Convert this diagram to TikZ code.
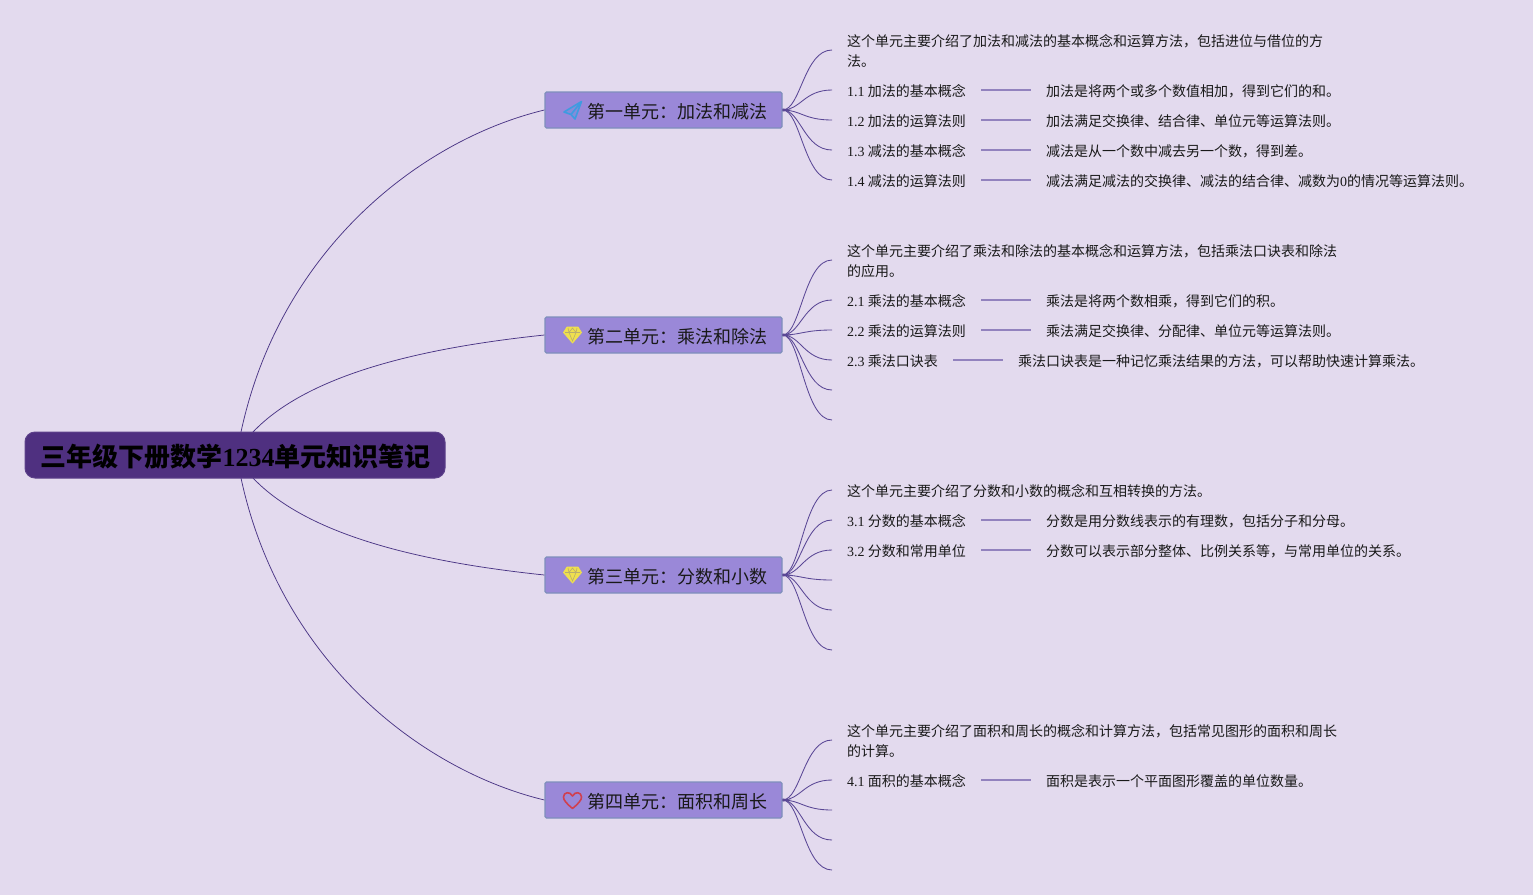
\documentclass[tikz,border=0pt]{standalone}
\usepackage{fontspec}
\setmainfont{Noto Sans CJK SC}
\newfontfamily\lat{Liberation Serif}
\usetikzlibrary{calc}
\definecolor{bgc}{HTML}{E3DAEE}
\definecolor{rootc}{HTML}{4F3080}
\definecolor{boxc}{HTML}{9A88D8}
\definecolor{boxe}{HTML}{7F8FBC}
\definecolor{linkc}{HTML}{4A3585}
\definecolor{branchc}{HTML}{5A4795}
\definecolor{barc}{HTML}{9282BE}
\definecolor{planec}{HTML}{3F9BE0}
\definecolor{gemc}{HTML}{EFE04E}
\definecolor{gemdark}{HTML}{B9AE6E}
\definecolor{heartc}{HTML}{D0404F}
\tikzset{
  rootnode/.style={fill=rootc,draw=rootc!92!white,line width=1pt,rounded corners=10pt,minimum width=420pt,minimum height=46pt,inner sep=0pt},
  unitbox/.style={fill=boxc,draw=boxe,line width=1.2pt,rounded corners=1.5pt,minimum width=237pt,minimum height=36pt,inner sep=0pt},
  unitlabel/.style={anchor=west,inner sep=0pt,text height=14pt,text depth=2pt,font=\fontsize{18}{22}\selectfont,text=black!90},
  leaf/.style={anchor=west,inner sep=0pt,text height=11pt,text depth=1pt,font=\fontsize{14}{20}\selectfont,text=black!90},
  para/.style={anchor=north west,inner sep=0pt,align=left,font=\fontsize{14}{20}\selectfont,text=black!90},
  main/.style={draw=linkc,line width=0.75pt},
  branch/.style={draw=branchc,line width=0.85pt},
  bar/.style={draw=barc,line width=1.5pt}
}
\newcommand{\brn}[2]{\draw[branch] (#1.east) .. controls +(18,0) and ($(#2)+(-28,0)$) .. (#2);}
\newcommand{\stub}[1]{\fill[branchc] ($(#1.east)+(0,-1.6)$) -- ($(#1.east)+(9,0)$) -- ($(#1.east)+(0,1.6)$) -- cycle;}
\newcommand{\barline}[2]{\draw[bar] ([xshift=15pt,yshift=1pt]#1.east) -- ([xshift=-15pt,yshift=1pt]#2.west);}
\newcommand{\ld}[1]{{\lat #1}}
\begin{document}
\begin{tikzpicture}[x=1pt,y=-1pt]
\useasboundingbox (0,0) rectangle (1533,895);
\fill[bgc] (0,0) rectangle (1533,895);
% links from root
\coordinate (ra) at (241,432); \coordinate (rb) at (253,432);
\coordinate (rc) at (253,478); \coordinate (rd) at (241,478);
\node[unitbox] (u1) at (663.5,110) {};
\node[unitbox] (u2) at (663.5,335) {};
\node[unitbox] (u3) at (663.5,575) {};
\node[unitbox] (u4) at (663.5,800) {};
\draw[main] (ra) .. controls (280,250) and (420,140) .. (u1.west);
\draw[main] (rb) .. controls (310,372) and (430,347) .. (u2.west);
\draw[main] (rc) .. controls (310,538) and (430,563) .. (u3.west);
\draw[main] (rd) .. controls (280,660) and (420,770) .. (u4.west);
\node[rootnode] (root) at (235,455) {};
\node[anchor=center,inner sep=0pt,font=\fontsize{26}{30}\selectfont\bfseries,text=black] (roottext) at (235.5,457) {三年级下册数学{\lat 1234}单元知识笔记};
% unit labels
\node[unitlabel] (l1) at (587,112) {第一单元：加法和减法};
\node[unitlabel] (l2) at (587,337) {第二单元：乘法和除法};
\node[unitlabel] (l3) at (587,577) {第三单元：分数和小数};
\node[unitlabel] (l4) at (587,802) {第四单元：面积和周长};
% icons
\draw[draw=planec,fill=planec!25!boxc,line width=1.6pt,line join=round]
 (581.5,101.5) -- (564,112) -- (571,114.5) -- (575,119) -- cycle (581.5,101.5) -- (571,114.5);
\foreach \yy in {0,240} {
\begin{scope}[yshift=-\yy pt]
\draw[fill=gemc,draw=gemc,line width=0.8pt,line join=round]
 (567,327) -- (578,327) -- (581.5,332.5) -- (572.5,343) -- (563.5,332.5) -- cycle;
\draw[draw=gemdark,line width=0.6pt] (565,332.5) -- (580,332.5) (569,332.5) -- (572.5,341) -- (576,332.5) (568,328) -- (569,332.5) -- (572.5,328) -- (576,332.5) -- (577,328);
\end{scope}
}
\draw[draw=heartc,line width=1.6pt,line join=round]
 (572.5,808.5) .. controls (566,803) and (563.5,800) .. (563.5,797) .. controls (563.5,792) and (570,791) .. (572.5,796) .. controls (575,791) and (581.5,792) .. (581.5,797) .. controls (581.5,800) and (579,803) .. (572.5,808.5) -- cycle;
% unit 1
\node[para] (p1) at (847,34.5) {这个单元主要介绍了加法和减法的基本概念和运算方法，包括进位与借位的方\\法。};
\coordinate (e10) at (832,50);
\node[leaf] (a11) at (847,91) {\ld{1.1} 加法的基本概念};
\node[leaf] (a12) at (847,121) {\ld{1.2} 加法的运算法则};
\node[leaf] (a13) at (847,151) {\ld{1.3} 减法的基本概念};
\node[leaf] (a14) at (847,181) {\ld{1.4} 减法的运算法则};
\node[leaf] (b11) at (1046,91) {加法是将两个或多个数值相加，得到它们的和。};
\node[leaf] (b12) at (1046,121) {加法满足交换律、结合律、单位元等运算法则。};
\node[leaf] (b13) at (1046,151) {减法是从一个数中减去另一个数，得到差。};
\node[leaf] (b14) at (1046,181) {减法满足减法的交换律、减法的结合律、减数为\ld{0}的情况等运算法则。};
\coordinate (e11) at (832,90); \coordinate (e12) at (832,120); \coordinate (e13) at (832,150); \coordinate (e14) at (832,180);
\foreach \e in {e10,e11,e12,e13,e14} {\brn{u1}{\e}}
\stub{u1}
\barline{a11}{b11}\barline{a12}{b12}\barline{a13}{b13}\barline{a14}{b14}
% unit 2
\node[para] (p2) at (847,244.5) {这个单元主要介绍了乘法和除法的基本概念和运算方法，包括乘法口诀表和除法\\的应用。};
\coordinate (e20) at (832,260);
\node[leaf] (a21) at (847,301) {\ld{2.1} 乘法的基本概念};
\node[leaf] (a22) at (847,331) {\ld{2.2} 乘法的运算法则};
\node[leaf] (a23) at (847,361) {\ld{2.3} 乘法口诀表};
\node[leaf] (b21) at (1046,301) {乘法是将两个数相乘，得到它们的积。};
\node[leaf] (b22) at (1046,331) {乘法满足交换律、分配律、单位元等运算法则。};
\node[leaf] (b23) at (1018,361) {乘法口诀表是一种记忆乘法结果的方法，可以帮助快速计算乘法。};
\coordinate (e21) at (832,300); \coordinate (e22) at (832,330); \coordinate (e23) at (832,360); \coordinate (e24) at (832,390); \coordinate (e25) at (832,420);
\foreach \e in {e20,e21,e22,e23,e24,e25} {\brn{u2}{\e}}
\stub{u2}
\barline{a21}{b21}\barline{a22}{b22}\barline{a23}{b23}
% unit 3
\node[leaf] (p3) at (847,491) {这个单元主要介绍了分数和小数的概念和互相转换的方法。};
\coordinate (e30) at (832,490);
\node[leaf] (a31) at (847,521) {\ld{3.1} 分数的基本概念};
\node[leaf] (a32) at (847,551) {\ld{3.2} 分数和常用单位};
\node[leaf] (b31) at (1046,521) {分数是用分数线表示的有理数，包括分子和分母。};
\node[leaf] (b32) at (1046,551) {分数可以表示部分整体、比例关系等，与常用单位的关系。};
\coordinate (e31) at (832,520); \coordinate (e32) at (832,550); \coordinate (e33) at (832,580); \coordinate (e34) at (832,610); \coordinate (e35) at (832,650);
\foreach \e in {e30,e31,e32,e33,e34,e35} {\brn{u3}{\e}}
\stub{u3}
\barline{a31}{b31}\barline{a32}{b32}
% unit 4
\node[para] (p4) at (847,724.5) {这个单元主要介绍了面积和周长的概念和计算方法，包括常见图形的面积和周长\\的计算。};
\coordinate (e40) at (832,740);
\node[leaf] (a41) at (847,781) {\ld{4.1} 面积的基本概念};
\node[leaf] (b41) at (1046,781) {面积是表示一个平面图形覆盖的单位数量。};
\coordinate (e41) at (832,780); \coordinate (e42) at (832,810); \coordinate (e43) at (832,840); \coordinate (e44) at (832,870);
\foreach \e in {e40,e41,e42,e43,e44} {\brn{u4}{\e}}
\stub{u4}
\barline{a41}{b41}
\end{tikzpicture}
\end{document}
